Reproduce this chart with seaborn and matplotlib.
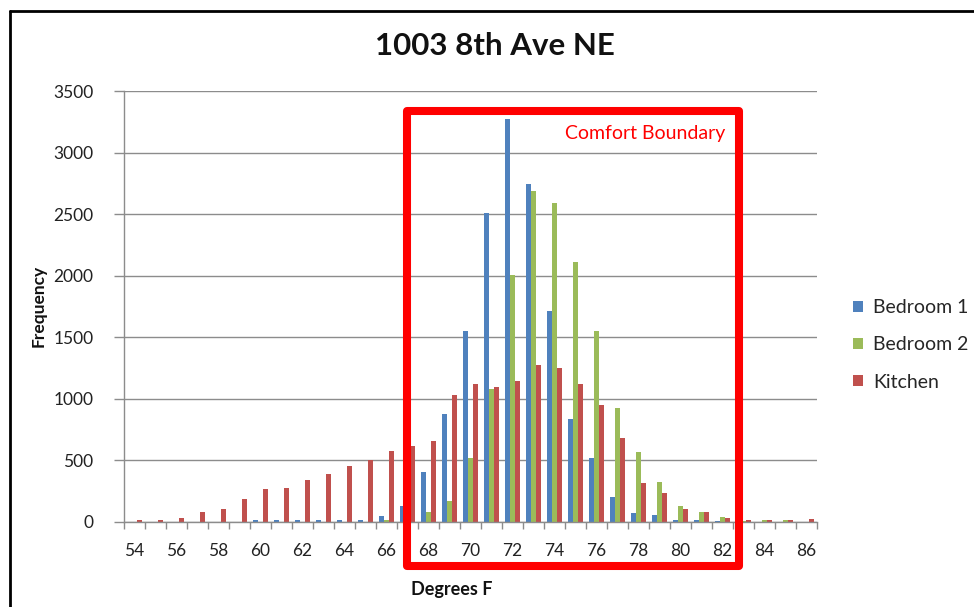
import matplotlib.pyplot as plt
import matplotlib.transforms as mtransforms
from matplotlib.patches import Rectangle
from matplotlib.lines import Line2D
import seaborn as sns
import pandas as pd

# temperature bins (degrees F) and hourly frequency per room
temps = list(range(54, 87))
bedroom1 = [0, 0, 0, 0, 0, 0, 16, 16, 16, 16, 16, 16, 44, 131, 402, 878, 1552,
            2508, 3269, 2742, 1709, 834, 516, 198, 68, 54, 14, 16, 3, 0, 0, 0, 0]
bedroom2 = [0, 0, 0, 0, 0, 0, 0, 0, 0, 0, 0, 0, 11, 20, 76, 168, 516,
            1079, 2005, 2690, 2587, 2114, 1552, 924, 565, 321, 130, 76, 41, 5, 16, 16, 0]
kitchen = [16, 16, 30, 79, 107, 183, 262, 273, 342, 388, 454, 503, 571, 617, 658, 1030, 1117,
           1092, 1141, 1272, 1245, 1117, 951, 682, 312, 231, 103, 76, 27, 16, 16, 16, 19]
rooms = ['Bedroom 1', 'Bedroom 2', 'Kitchen']
colors = ['#4F81BD', '#9BBB59', '#C0504D']
comfort_low, comfort_high = 66.98, 82.79

df = pd.DataFrame({
    'Degrees F': temps * 3,
    'Frequency': bedroom1 + bedroom2 + kitchen,
    'Room': [r for r in rooms for _ in temps],
})

sns.set_theme(style='white')
plt.rcParams['font.family'] = ['Lato', 'DejaVu Sans']
grid_gray = '#8c8c8c'

fig = plt.figure(figsize=(9.74, 6.07), dpi=100)
ax = fig.add_axes([124 / 974, 1 - 521.7 / 607, 693 / 974, 430.7 / 607])

sns.barplot(data=df, x='Degrees F', y='Frequency', hue='Room', order=temps,
            hue_order=rooms, palette=colors, saturation=1, width=0.67, gap=0,
            linewidth=0, edgecolor='none', ax=ax)

ax.set_xlim(-0.5, len(temps) - 0.5)
ax.set_ylim(0, 3500)
ax.set_yticks(range(0, 3501, 500))
ax.yaxis.grid(True, color=grid_gray, lw=1)
ax.set_axisbelow(True)

# labels every 2 degrees, tick marks between every category
major = [i for i, t in enumerate(temps) if t % 2 == 0]
ax.set_xticks(major)
ax.set_xticklabels([str(temps[i]) for i in major])
ax.set_xticks([i - 0.5 for i in range(len(temps) + 1)], minor=True)
ax.tick_params(axis='x', which='major', bottom=True, length=0, pad=15, labelsize=12.5, labelcolor='#222222')
ax.tick_params(axis='x', which='minor', bottom=True, length=5, width=1, color=grid_gray, direction='out')
ax.tick_params(axis='y', left=True, length=7, width=1, color=grid_gray, direction='out', pad=15,
               labelsize=12.5, labelcolor='#222222')

for s in ['top', 'right']:
    ax.spines[s].set_visible(False)
for s in ['left', 'bottom']:
    ax.spines[s].set_color(grid_gray)
    ax.spines[s].set_linewidth(1)

ax.set_xlabel('Degrees F', fontsize=13, fontweight='bold', color='#111111')
ax.xaxis.label.set_va('baseline')
ax.xaxis.set_label_coords((452 - 124) / 693, (521.7 - 595) / 430.7)
ax.set_ylabel('Frequency', fontsize=12.5, fontweight='bold', color='#111111')
ax.yaxis.label.set_va('center')
ax.yaxis.set_label_coords((39 - 124) / 693, 0.5)

# comfort boundary box
trans = mtransforms.blended_transform_factory(ax.transData, ax.transAxes)
box = Rectangle((comfort_low - temps[0], -0.102), comfort_high - comfort_low, 1.0556,
                transform=trans, fill=False, edgecolor='#FF0000', lw=5.8,
                clip_on=False, zorder=5, joinstyle='round')
ax.add_patch(box)
fig.text(725 / 974, 1 - 139.5 / 607, 'Comfort Boundary', color='#FF0000',
         fontsize=14, ha='right', va='baseline')

fig.text(495 / 974, 1 - 55 / 607, '1003 8th Ave NE', fontsize=22.5, fontweight='bold',
         ha='center', va='baseline', color='#111111')

sns.move_legend(ax, 'upper left', bbox_to_anchor=(853 / 974, 1 - 299 / 607),
                bbox_transform=fig.transFigure, frameon=False, title=None,
                fontsize=14, handlelength=0.5, handleheight=0.5, handletextpad=0.55,
                labelspacing=1.05, borderpad=0, borderaxespad=0)

# outer chart border
fig.add_artist(Line2D([10 / 974, 10 / 974], [0, 1 - 11 / 607], transform=fig.transFigure,
                      color='black', lw=2))
fig.add_artist(Line2D([10 / 974, 1], [1 - 11 / 607, 1 - 11 / 607], transform=fig.transFigure,
                      color='black', lw=2))

fig.savefig('out.png', dpi=100)
